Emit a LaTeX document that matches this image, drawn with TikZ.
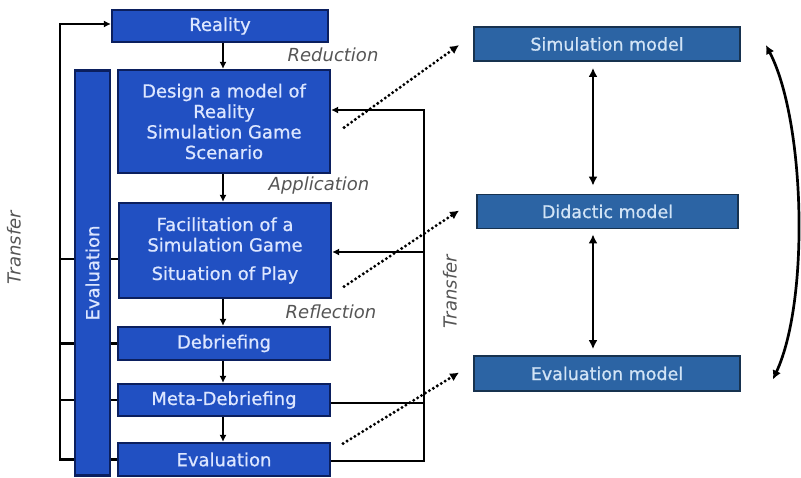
\documentclass[tikz,border=0pt]{standalone}
\usepackage{fontspec}
\setmainfont{DejaVu Sans}
\newfontfamily\boxfamily{DejaVu Sans}[FakeBold=0.8]
\usetikzlibrary{calc}
\usetikzlibrary{arrows.meta}
\usetikzlibrary{backgrounds}
\definecolor{GameBlue}{HTML}{2150C2}
\definecolor{GameEdge}{HTML}{0B1F5E}
\definecolor{GameText}{HTML}{DCE6FF}
\definecolor{ModelBlue}{HTML}{2C64A4}
\definecolor{ModelEdge}{HTML}{17324F}
\definecolor{ModelText}{HTML}{D2E4F6}
\definecolor{LabelGrey}{HTML}{555555}
\newcommand{\gamefont}{\boxfamily\fontsize{18}{20.5}\selectfont}
\newcommand{\modelfont}{\boxfamily\fontsize{17.5}{20}\selectfont}
\newcommand{\gamew}{212}
\newcommand{\modelw}{266}

\begin{document}
\begin{tikzpicture}[x=1pt,y=-1pt,
    gamebox/.style={draw=GameEdge,line width=2.2pt,fill=GameBlue,
      text=GameText,font=\gamefont,align=center,inner sep=0pt,
      minimum width=\gamew},
    modelbox/.style={draw=ModelEdge,line width=1.8pt,fill=ModelBlue,
      text=ModelText,font=\modelfont,inner sep=0pt,
      minimum width=\modelw,minimum height=34},
    steplabel/.style={text=LabelGrey,font=\fontsize{18}{20}\selectfont\itshape},
    link/.style={line width=2.7pt},
    tip/.style={-{Latex[length=7pt,width=7pt]}},
    duotip/.style={{Latex[length=9pt,width=9pt]}-{Latex[length=9pt,width=9pt]}},
    hint/.style={line width=3.3pt,dash pattern=on 0pt off 4.6pt,line cap=round,
      -{Latex[length=9pt,width=9pt]}}]
    \useasboundingbox (0,0) rectangle (801,477);
    % simulation game steps
    \node[gamebox,minimum width=216,minimum height=32] (reality) at (220,26) {Reality};
    \node[gamebox,minimum height=103] (design) at (224,121.5)
      {Design a model of\\Reality\\Simulation Game\\Scenario};
    \node[gamebox,minimum height=95] (facil) at (225,250.5)
      {Facilitation of a\\Simulation Game\\[8pt]Situation of Play};
    \node[gamebox,minimum height=33] (debrief) at (224,343.5) {Debriefing};
    \node[gamebox,minimum height=32] (meta) at (224,400) {Meta-Debriefing};
    \node[gamebox,minimum height=33] (evalbox) at (224,459.5) {Evaluation};
    \node[gamebox,rotate=90,minimum width=405,minimum height=35] (evalbar)
      at (92.5,273) {Evaluation};
    % models
    \node[modelbox] (simmodel) at (607,44) {Simulation model};
    \node[modelbox,minimum width=261] (didmodel) at (607.5,211.5) {Didactic model};
    \node[modelbox,minimum height=35] (evalmodel) at (607,373.5) {Evaluation model};
    % step labels
    \node[steplabel] (reduction) at (333,55) {Reduction};
    \node[steplabel] (application) at (319,186) {Application};
    \node[steplabel] (reflection) at (331,312) {Reflection};
    \node[steplabel,rotate=90] (transferl) at (14,248) {Transfer};
    \node[steplabel,rotate=90] (transferr) at (450,292) {Transfer};
    % flow down
    \coordinate (flowx) at (223,0);
    \draw[link,tip] (reality.south -| flowx) -- (design.north -| flowx);
    \draw[link,tip] (design.south -| flowx) -- (facil.north -| flowx);
    \draw[link,tip] (facil.south -| flowx) -- (debrief.north -| flowx);
    \draw[link,tip] (debrief.south -| flowx) -- (meta.north -| flowx);
    \draw[link,tip] (meta.south -| flowx) -- (evalbox.north -| flowx);
    % left loop
    \coordinate (ltop) at (60,24);
    \coordinate (lbot) at (60,459.5);
    \begin{scope}[on background layer]
      \draw[link,tip] (evalbox.west) -- (lbot) -- (ltop) -- (ltop -| reality.west);
      \draw[link] (facil.west |- 0,259) -- (ltop |- 0,259);
      \draw[link] (debrief.west) -- (debrief.west -| ltop);
      \draw[link] (meta.west) -- (meta.west -| ltop);
    \end{scope}
    % right loop
    \coordinate (rtop) at (424,110);
    \coordinate (rbot) at (424,461);
    \draw[link,tip] (evalbox.east |- rbot) -- (rbot) -- (rtop) -- (rtop -| design.east);
    \draw[link] (meta.east |- 0,403) -- (rtop |- 0,403);
    \draw[link,tip] (rtop |- 0,252) -- (facil.east |- 0,252);
    % hints to the models
    \draw[hint] ($(design.east)+(13,6)$) -- ($(simmodel.west)+(-14,1)$);
    \draw[hint] ($(facil.east)+(12,36)$) -- ($(didmodel.west)+(-17,-1)$);
    \draw[hint] ($(evalbox.east)+(12,-16)$) -- ($(evalmodel.west)+(-14,-1)$);
    % between the models
    \draw[link,duotip] ([xshift=-14pt,yshift=-6pt]simmodel.south) -- ([xshift=-14.5pt,yshift=8pt]didmodel.north);
    \draw[link,duotip] ([xshift=-14.5pt,yshift=-5pt]didmodel.south) -- ([xshift=-14pt,yshift=6pt]evalmodel.north);
    \draw[link,duotip] ($(simmodel.east)+(25,1)$)
      .. controls (805,120) and (810,300) .. ($(evalmodel.east)+(32,6)$);
\end{tikzpicture}
\end{document}
